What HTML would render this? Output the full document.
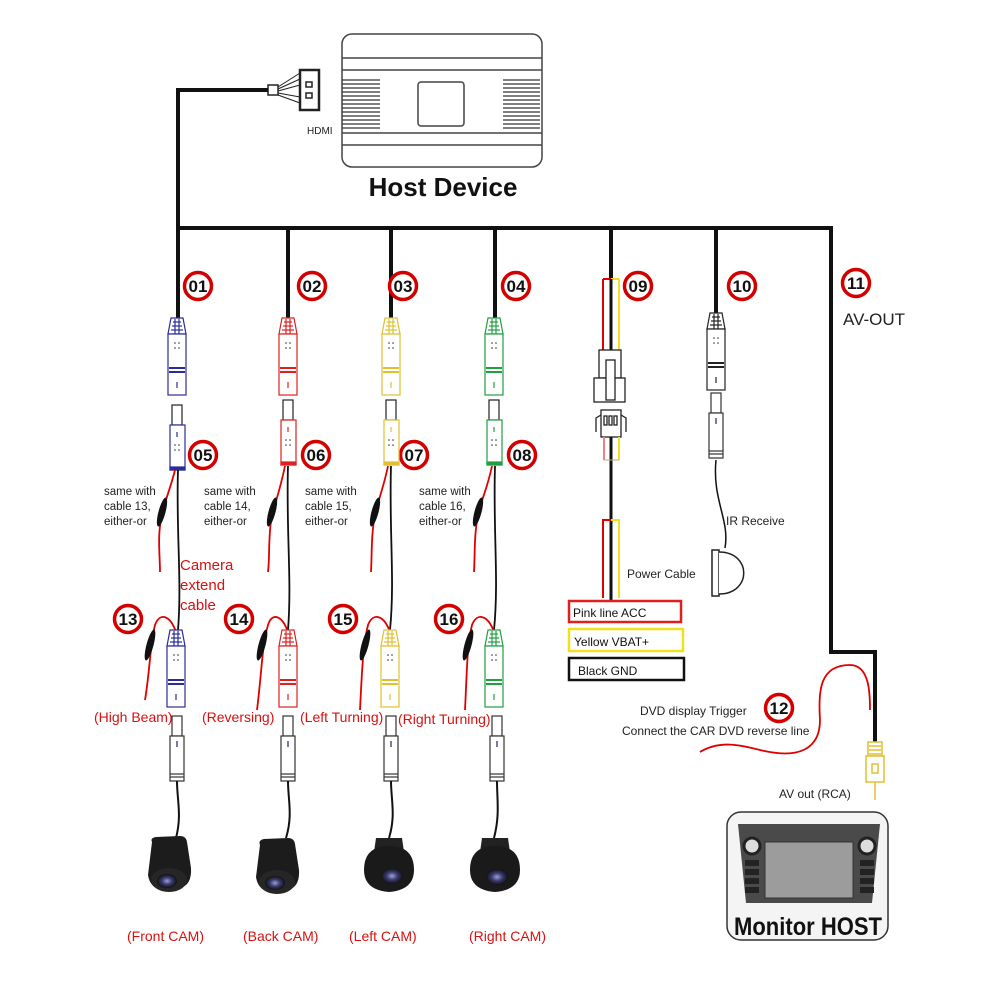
<!DOCTYPE html>
<html><head><meta charset="utf-8"><style>
html,body{margin:0;padding:0;background:#fff;}
svg{display:block;font-family:"Liberation Sans",sans-serif;}
</style></head><body>
<svg width="1000" height="1000" viewBox="0 0 1000 1000" xmlns="http://www.w3.org/2000/svg">
<defs>
<g id="male" fill="#fff" stroke-width="1.2">
 <path d="M-6,0 L6,0 L9,16 L-9,16 Z"/>
 <line x1="-4" y1="4" x2="4" y2="4"/><line x1="-5" y1="8" x2="5" y2="8"/><line x1="-6" y1="12" x2="6" y2="12"/>
 <line x1="-2" y1="1" x2="-2" y2="16"/><line x1="2" y1="1" x2="2" y2="16"/>
 <rect x="-9" y="16" width="18" height="61"/>
 <line x1="-8" y1="50" x2="8" y2="50" stroke-width="2"/><line x1="-8" y1="54" x2="8" y2="54" stroke-width="2"/>
 <line x1="0" y1="64" x2="0" y2="70"/>
 <g stroke="none" fill="#333"><circle cx="-2" cy="25" r="0.8"/><circle cx="2" cy="25" r="0.8"/><circle cx="-2" cy="30" r="0.8"/><circle cx="2" cy="30" r="0.8"/></g>
</g>
<g id="female" fill="#fff" stroke-width="1.2">
 <rect x="-5" y="0" width="10" height="20" stroke="#222"/>
 <rect x="-7" y="20" width="15" height="45"/>
 <rect x="-7" y="62" width="15" height="3" fill="currentColor"/>
 <line x1="0" y1="27" x2="0" y2="32"/>
 <g stroke="none" fill="#333"><circle cx="-2" cy="40" r="0.8"/><circle cx="2" cy="40" r="0.8"/><circle cx="-2" cy="45" r="0.8"/><circle cx="2" cy="45" r="0.8"/></g>
</g>
<g id="fem2" fill="#fff" stroke="#333" stroke-width="1.2">
 <rect x="-5" y="0" width="10" height="20"/>
 <rect x="-7" y="20" width="14" height="45"/>
 <line x1="-7" y1="58" x2="7" y2="58"/><line x1="-7" y1="61" x2="7" y2="61"/>
 <line x1="0" y1="25" x2="0" y2="31" stroke="#226"/>
</g>
<radialGradient id="lens" cx="0.5" cy="0.5" r="0.5"><stop offset="0" stop-color="#9aa0d0"/><stop offset="0.5" stop-color="#3a3a70"/><stop offset="1" stop-color="#111"/></radialGradient>
</defs>

<g fill="none" stroke="#444" stroke-width="1.5">
 <rect x="342" y="34" width="200" height="133" rx="10"/>
 <line x1="342" y1="58" x2="542" y2="58"/><line x1="342" y1="70" x2="542" y2="70"/>
 <line x1="342" y1="133" x2="542" y2="133"/><line x1="342" y1="145" x2="542" y2="145"/>
 <rect x="418" y="82" width="46" height="44" rx="3"/>
</g>
<g stroke="#333" stroke-width="1.3">
 <path d="M342 80H380M342 84H380M342 88H380M342 92H380M342 96H380M342 100H380M342 104H380M342 108H380M342 112H380M342 116H380M342 120H380M342 124H380M342 128H380"/>
 <path d="M503 80H540M503 84H540M503 88H540M503 92H540M503 96H540M503 100H540M503 104H540M503 108H540M503 112H540M503 116H540M503 120H540M503 124H540M503 128H540"/>
</g>
<text x="443" y="196" font-size="26" font-weight="bold" text-anchor="middle" fill="#111">Host Device</text>
<text x="307" y="134" font-size="10" fill="#222">HDMI</text>
<g stroke="#222" fill="#fff" stroke-width="1.5">
 <rect x="268" y="85" width="10" height="10"/>
 <path d="M278 87 L300 73 M278 89 L300 79 M278 91 L300 85 M278 93 L300 97 M278 95 L300 103" fill="none" stroke-width="1"/>
 <rect x="300" y="70" width="19" height="40" stroke-width="2.5"/>
 <rect x="306" y="82" width="6" height="5"/><rect x="306" y="93" width="6" height="5"/>
</g>
<g stroke="#111" stroke-width="4" fill="none">
 <path d="M268 90 H178 V320"/>
 <path d="M178 228 H831 V652 H875 V742"/>
 <path d="M288 228V320M391 228V320M495 228V320M611 228V280M716 228V315"/>
</g>
<g fill="#fff" stroke="#d40000" stroke-width="3.5">
 <circle cx="198" cy="286" r="13.5"/><circle cx="312" cy="286" r="13.5"/><circle cx="403" cy="286" r="13.5"/><circle cx="516" cy="286" r="13.5"/>
 <circle cx="638" cy="286" r="13.5"/><circle cx="742" cy="286" r="13.5"/><circle cx="856" cy="283" r="13.5"/>
 <circle cx="203" cy="455" r="13.5"/><circle cx="316" cy="455" r="13.5"/><circle cx="414" cy="455" r="13.5"/><circle cx="522" cy="455" r="13.5"/>
 <circle cx="128" cy="619" r="13.5"/><circle cx="239" cy="619" r="13.5"/><circle cx="343" cy="619" r="13.5"/><circle cx="449" cy="619" r="13.5"/>
 <circle cx="779" cy="708" r="13.5"/>
</g>
<g font-size="17" font-weight="bold" text-anchor="middle" fill="#111">
 <text x="198" y="292">01</text><text x="312" y="292">02</text><text x="403" y="292">03</text><text x="516" y="292">04</text>
 <text x="638" y="292">09</text><text x="742" y="292">10</text><text x="856" y="289">11</text>
 <text x="203" y="461">05</text><text x="316" y="461">06</text><text x="414" y="461">07</text><text x="522" y="461">08</text>
 <text x="128" y="625">13</text><text x="239" y="625">14</text><text x="343" y="625">15</text><text x="449" y="625">16</text>
 <text x="779" y="714">12</text>
</g>
<text x="843" y="325" font-size="17" fill="#222">AV-OUT</text>

<use href="#male" x="177" y="318" stroke="#2b2b9a"/>
<use href="#male" x="288" y="318" stroke="#e02020"/>
<use href="#male" x="391" y="318" stroke="#e0c030"/>
<use href="#male" x="494" y="318" stroke="#20a040"/>
<use href="#female" x="177" y="405" stroke="#2b2b9a" color="#2b2b9a"/>
<use href="#female" x="288" y="400" stroke="#e02020" color="#e02020"/>
<use href="#female" x="391" y="400" stroke="#e0c030" color="#e0c030"/>
<use href="#female" x="494" y="400" stroke="#20a040" color="#20a040"/>

<g fill="none" stroke-width="1.8">
 <g stroke="#111">
  <path d="M178 470 C176 530 182 580 178 630"/>
  <path d="M288 466 C286 530 292 580 288 630"/>
  <path d="M391 466 C389 530 395 580 390 630"/>
  <path d="M495 466 C493 530 499 580 494 630"/>
 </g>
 <g stroke="#e00000">
  <path d="M175 470 C170 490 165 500 162 515 C157 535 160 555 160 572"/>
  <path d="M285 466 C280 490 276 500 272 515 C268 535 270 555 268 572"/>
  <path d="M388 466 C383 490 378 500 375 515 C371 535 372 555 371 572"/>
  <path d="M492 466 C487 490 481 500 478 515 C474 535 475 555 474 572"/>
  <path d="M176 632 C170 615 160 612 155 625 C150 645 150 670 145 700"/>
  <path d="M288 632 C282 615 272 612 268 625 C262 645 262 670 257 710"/>
  <path d="M390 632 C384 615 373 612 368 625 C363 645 362 670 360 710"/>
  <path d="M494 632 C488 615 477 612 472 625 C467 645 467 670 465 710"/>
 </g>
</g>
<g fill="#111">
 <ellipse cx="162" cy="512" rx="3.5" ry="15" transform="rotate(15 162 512)"/>
 <ellipse cx="272" cy="512" rx="3.5" ry="15" transform="rotate(15 272 512)"/>
 <ellipse cx="375" cy="512" rx="3.5" ry="15" transform="rotate(15 375 512)"/>
 <ellipse cx="478" cy="512" rx="3.5" ry="15" transform="rotate(15 478 512)"/>
 <ellipse cx="150" cy="645" rx="3.5" ry="16" transform="rotate(15 150 645)"/>
 <ellipse cx="262" cy="645" rx="3.5" ry="16" transform="rotate(15 262 645)"/>
 <ellipse cx="365" cy="645" rx="3.5" ry="16" transform="rotate(15 365 645)"/>
 <ellipse cx="468" cy="645" rx="3.5" ry="16" transform="rotate(15 468 645)"/>
</g>
<g font-size="11.5" fill="#222">
 <text x="104" y="495">same with</text><text x="104" y="510">cable 13,</text><text x="104" y="525">either-or</text>
 <text x="204" y="495">same with</text><text x="204" y="510">cable 14,</text><text x="204" y="525">either-or</text>
 <text x="305" y="495">same with</text><text x="305" y="510">cable 15,</text><text x="305" y="525">either-or</text>
 <text x="419" y="495">same with</text><text x="419" y="510">cable 16,</text><text x="419" y="525">either-or</text>
</g>
<g font-size="15" fill="#d81010">
 <text x="180" y="570">Camera</text><text x="180" y="590">extend</text><text x="180" y="610">cable</text>
</g>
<use href="#male" x="176" y="630" stroke="#2b2b9a"/>
<use href="#male" x="288" y="630" stroke="#e02020"/>
<use href="#male" x="390" y="630" stroke="#e0c030"/>
<use href="#male" x="494" y="630" stroke="#20a040"/>
<use href="#fem2" x="177" y="716"/>
<use href="#fem2" x="288" y="716"/>
<use href="#fem2" x="391" y="716"/>
<use href="#fem2" x="497" y="716"/>
<g font-size="14" fill="#d81010">
 <text x="94" y="722">(High Beam)</text><text x="202" y="722">(Reversing)</text>
 <text x="300" y="722">(Left Turning)</text><text x="398" y="724">(Right Turning)</text>
</g>
<g stroke="#111" stroke-width="2" fill="none">
 <path d="M177 781 C177 800 182 815 176 838"/>
 <path d="M288 781 C288 800 293 815 286 838"/>
 <path d="M391 781 C391 800 396 815 389 838"/>
 <path d="M497 781 C497 800 500 815 494 838"/>
</g>
<g>
 <path d="M152 842 Q150 838 156 837 L180 836 Q186 836 187 842 L191 868 Q192 885 180 888 L162 890 Q150 888 148 875 Z" fill="#1c1c1c"/>
 <ellipse cx="169" cy="880" rx="18" ry="12" fill="#262626"/><ellipse cx="167" cy="881" rx="10" ry="7" fill="url(#lens)"/>
 <path d="M260 845 Q258 840 264 839 L288 838 Q294 838 295 844 L299 870 Q300 887 288 890 L270 892 Q258 890 256 877 Z" fill="#1c1c1c"/>
 <ellipse cx="277" cy="882" rx="18" ry="12" fill="#262626"/><ellipse cx="275" cy="883" rx="10" ry="7" fill="url(#lens)"/>
 <path d="M376 838 L402 838 L404 852 L374 852 Z" fill="#222"/>
 <path d="M364 870 Q364 846 389 846 Q414 846 414 870 Q414 890 389 892 Q364 890 364 870 Z" fill="#1a1a1a"/><ellipse cx="392" cy="876" rx="11" ry="8" fill="url(#lens)"/>
 <path d="M482 838 L508 838 L510 852 L480 852 Z" fill="#222"/>
 <path d="M470 870 Q470 846 495 846 Q520 846 520 870 Q520 890 495 892 Q470 890 470 870 Z" fill="#1a1a1a"/><ellipse cx="497" cy="877" rx="11" ry="8" fill="url(#lens)"/>
</g>
<g font-size="14" fill="#d81010">
 <text x="127" y="941">(Front CAM)</text><text x="243" y="941">(Back CAM)</text>
 <text x="349" y="941">(Left CAM)</text><text x="469" y="941">(Right CAM)</text>
</g>

<g fill="none" stroke-width="2">
 <path d="M603 279 H611" stroke="#e00000"/><path d="M611 279 H619" stroke="#f0e020"/>
 <path d="M603 279 V350" stroke="#e00000"/><path d="M619 279 V350" stroke="#f0e020"/>
 <path d="M611 279 V350" stroke="#111" stroke-width="3"/>
</g>
<g fill="#fff" stroke="#222" stroke-width="1.3">
 <rect x="599" y="350" width="22" height="28"/>
 <rect x="594" y="378" width="31" height="24"/>
 <rect x="606" y="360" width="9" height="40"/>
 <rect x="601" y="410" width="20" height="27"/>
 <rect x="604" y="416" width="3" height="9"/><rect x="609" y="416" width="3" height="9"/><rect x="614" y="416" width="3" height="9"/>
 <path d="M601 415 L596 418 V432 M621 415 L626 418 V432" fill="none"/>
</g>
<g fill="none" stroke-width="2">
 <path d="M604 437 V460" stroke="#f08080"/><path d="M619 437 V460" stroke="#f0e020"/>
 <path d="M611 437 V600" stroke="#111" stroke-width="3"/>
 <path d="M604 460 H619" stroke="#c8a080" stroke-width="1"/>
 <path d="M603 598 V520 H611" stroke="#e00000"/><path d="M619 598 V520 H611" stroke="#f0e020"/>
</g>
<text x="627" y="578" font-size="12" fill="#222">Power Cable</text>
<rect x="569" y="601" width="112" height="21" fill="#fff" stroke="#e02020" stroke-width="2.5"/>
<rect x="569" y="629" width="114" height="22" fill="#fff" stroke="#f0e020" stroke-width="2.5"/>
<rect x="569" y="658" width="115" height="22" fill="#fff" stroke="#111" stroke-width="2.5"/>
<g font-size="12" fill="#111">
 <text x="573" y="617">Pink line ACC</text><text x="574" y="646">Yellow VBAT+</text><text x="578" y="675">Black GND</text>
</g>

<use href="#male" x="716" y="313" stroke="#222"/>
<use href="#fem2" x="716" y="393"/>
<path d="M716 460 C712 500 730 520 725 548" stroke="#111" stroke-width="1.5" fill="none"/>
<g fill="#fff" stroke="#222" stroke-width="1.5">
 <rect x="712" y="550" width="7" height="46"/>
 <path d="M719 552 C752 552 752 594 719 594"/>
</g>
<text x="726" y="525" font-size="12" fill="#222">IR Receive</text>

<path d="M700 752 C720 740 740 745 760 750 C800 760 820 748 820 720 C818 690 820 665 850 665 C870 665 870 695 870 710" stroke="#e00000" stroke-width="1.8" fill="none"/>
<g fill="#fff" stroke="#e0c030" stroke-width="1.5">
 <rect x="868" y="742" width="14" height="14"/>
 <path d="M869 746H881M869 750H881M869 754H881"/>
 <rect x="866" y="756" width="18" height="26"/>
 <rect x="872" y="764" width="6" height="9"/>
 <line x1="875" y1="782" x2="875" y2="800"/>
</g>
<g font-size="12" fill="#222">
 <text x="640" y="715">DVD display Trigger</text>
 <text x="622" y="735">Connect the CAR DVD reverse line</text>
 <text x="779" y="798">AV out  (RCA)</text>
</g>
<rect x="727" y="812" width="161" height="128" rx="14" fill="#f4f4f4" stroke="#333" stroke-width="1.5"/>
<path d="M738 824 L880 824 L872 903 L746 903 Z" fill="#4a4a4a"/>
<rect x="765" y="842" width="88" height="56" fill="#9c9c9c" stroke="#333"/>
<circle cx="752" cy="846" r="8" fill="#ddd" stroke="#222" stroke-width="3"/>
<circle cx="867" cy="846" r="8" fill="#ddd" stroke="#222" stroke-width="3"/>
<g fill="#222"><rect x="745" y="860" width="14" height="6"/><rect x="745" y="869" width="14" height="6"/><rect x="745" y="878" width="14" height="6"/><rect x="745" y="887" width="14" height="6"/>
<rect x="860" y="860" width="14" height="6"/><rect x="860" y="869" width="14" height="6"/><rect x="860" y="878" width="14" height="6"/><rect x="860" y="887" width="14" height="6"/></g>
<text x="808" y="935" font-size="25" font-weight="bold" text-anchor="middle" fill="#111" textLength="148" lengthAdjust="spacingAndGlyphs">Monitor  HOST</text>
</svg>
</body></html>
